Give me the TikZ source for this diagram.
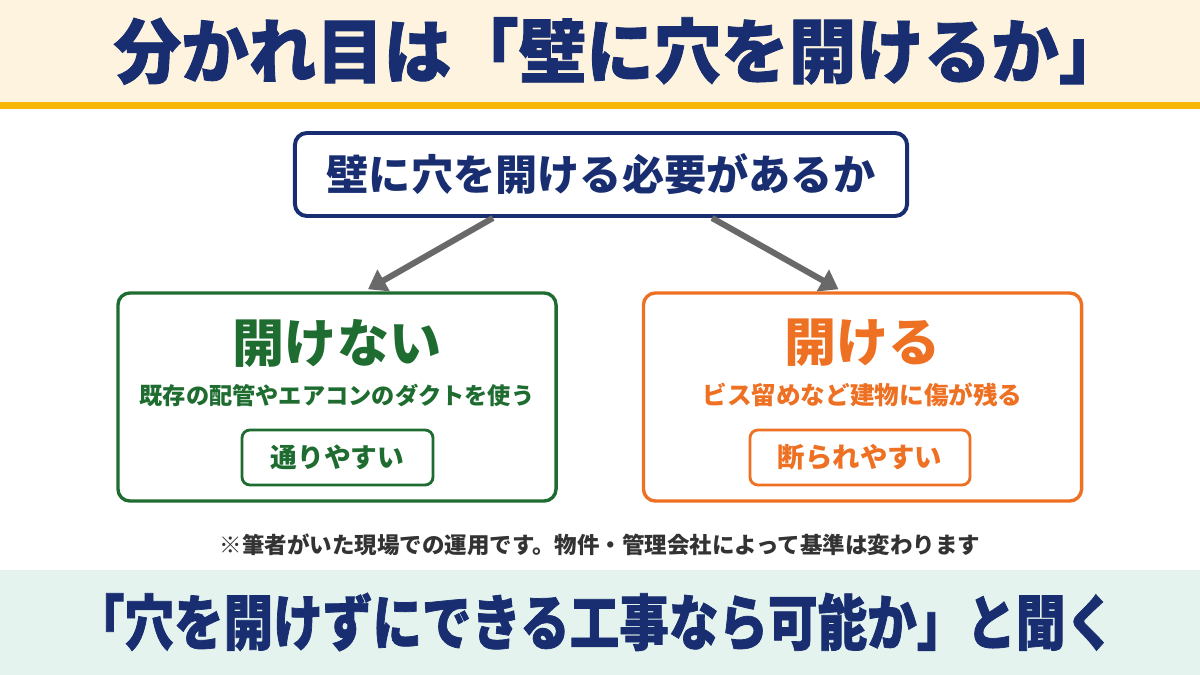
\documentclass[tikz,border=0pt]{standalone}
\usepackage{fontspec}
\setmainfont{Noto Sans CJK JP}
\newfontfamily\headfont{Noto Sans CJK JP}[FakeStretch=0.96, BoldFeatures={FakeBold=1.2}]
\newfontfamily\askfont{Noto Sans CJK JP}[FakeStretch=0.82, BoldFeatures={FakeBold=1.2}]
\usetikzlibrary{positioning,arrows.meta,calc}
\definecolor{Navy}{RGB}{24,46,112}
\definecolor{LeafGreen}{RGB}{30,108,48}
\definecolor{Carrot}{RGB}{238,112,34}
\definecolor{Cream}{RGB}{253,243,222}
\definecolor{Amber}{RGB}{247,183,0}
\definecolor{Mint}{RGB}{229,243,238}
\definecolor{ArrowGray}{RGB}{105,105,105}
\definecolor{NoteGray}{RGB}{51,51,51}

\begin{document}
\begin{tikzpicture}[
    x=0.025cm, y=-0.025cm,
    qbox/.style={rectangle, draw=Navy, line width=2.8pt, fill=white, rounded corners=0.3cm,
                 minimum width=15.3cm, minimum height=2.075cm},
    choicebox/.style={rectangle, line width=2.4pt, fill=white, rounded corners=0.3cm,
                 minimum width=10.95cm, minimum height=5.2cm},
    resultbox/.style={rectangle, line width=2pt, fill=white, rounded corners=0.2cm,
                 minimum height=1.375cm},
    arrow/.style={-{Triangle[length=0.45cm, width=0.6cm]}, line width=4.3pt, draw=ArrowGray}
]
    % bands
    \fill[Cream] (0,0) rectangle (1200,102);
    \fill[Amber] (0,102) rectangle (1200,109);
    \fill[Mint] (0,570) rectangle (1200,675);
    \useasboundingbox (0,0) rectangle (1200,675);

    \node[font=\headfont\fontsize{50}{54}\selectfont\bfseries, text=Navy] (title) at (620,51)
        {分かれ目は「壁に穴を開けるか」};

    \node[qbox, font=\fontsize{30}{34}\selectfont\bfseries, text=Navy] (q) at (601,174.5)
        {壁に穴を開ける必要があるか};

    \node[choicebox, draw=LeafGreen] (no) at (337,397) {};
    \node[choicebox, draw=Carrot] (yes) at (862.5,397) {};

    \draw[arrow] ([xshift=-2.7cm]q.south) -- ([xshift=0.775cm, yshift=0.05cm]no.north);
    \draw[arrow] ([xshift=2.775cm]q.south) -- ([xshift=-0.6cm, yshift=0.05cm]yes.north);

    % left: do not drill
    \node[font=\fontsize{37}{40}\selectfont\bfseries, text=LeafGreen] (notitle) at (337,343) {開けない};
    \node[font=\fontsize{16.5}{20}\selectfont\bfseries, text=LeafGreen] (nosub) at (337,395)
        {既存の配管やエアコンのダクトを使う};
    \node[resultbox, draw=LeafGreen, minimum width=4.775cm,
          font=\fontsize{19}{22}\selectfont\bfseries, text=LeafGreen] (nores) at (337.5,457.5) {通りやすい};

    % right: drill
    \node[font=\fontsize{37}{40}\selectfont\bfseries, text=Carrot] (yestitle) at (862.5,343) {開ける};
    \node[font=\fontsize{17.5}{20}\selectfont\bfseries, text=Carrot] (yessub) at (862.5,395)
        {ビス留めなど建物に傷が残る};
    \node[resultbox, draw=Carrot, minimum width=5.5cm,
          font=\fontsize{19.5}{22}\selectfont\bfseries, text=Carrot] (yesres) at (860,457.5) {断られやすい};

    \node[font=\fontsize{16}{18}\selectfont\bfseries, text=NoteGray] (note) at (600,545)
        {※筆者がいた現場での運用です。物件・管理会社によって基準は変わります};

    \node[font=\askfont\fontsize{43}{46}\selectfont\bfseries, text=Navy] (ask) at (595,622)
        {「穴を開けずにできる工事なら可能か」と聞く};
\end{tikzpicture}
\end{document}
